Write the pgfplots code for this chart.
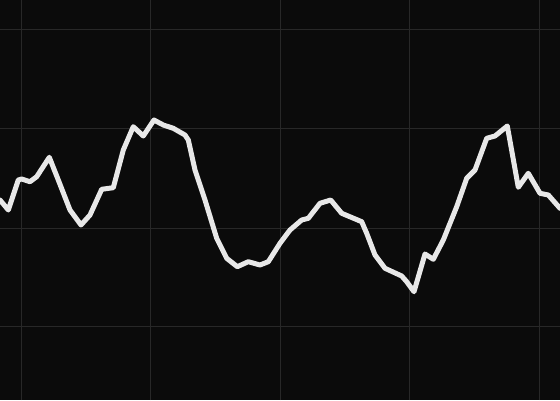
\documentclass[border=0pt]{standalone}
\usepackage{pgfplots}
\pgfplotsset{compat=1.18}
\definecolor{bg}{HTML}{0B0B0B}
\definecolor{gridc}{HTML}{282828}
\definecolor{linec}{HTML}{E8E8E8}
\begin{document}
\begin{tikzpicture}
\begin{axis}[
  width=560pt, height=400pt, scale only axis,
  xmin=0, xmax=560, ymin=-400, ymax=0,
  axis line style={draw=none},
  axis background/.style={fill=bg},
  xtick={21,150.5,280,409.5,539},
  ytick={-326,-228,-129,-30},
  xticklabels={}, yticklabels={},
  major tick length=0pt,
  grid=major,
  major grid style={gridc, line width=1pt},
]
\addplot[linec, line width=5pt, line join=round, line cap=round] coordinates {
(0,-200) (8.3,-210) (18.3,-180) (21.7,-179) (30,-181.7) (36.7,-176.7) (49.3,-157.3)
(58.3,-180) (70,-210) (81,-225) (90,-215) (101.7,-189.3) (113.3,-187.7) (123.3,-150)
(133.3,-126.7) (143.3,-136) (154,-120) (163.3,-125) (173.3,-128.3) (185,-135)
(188.3,-140) (195,-170) (205,-200) (216.7,-238.3) (226.7,-258.3) (237.3,-266.7)
(248.3,-261.7) (260,-265) (268.3,-261.7) (280,-243.3) (290,-230) (301.7,-220)
(308.3,-218.3) (320,-203.3) (330.7,-200) (341.7,-213.3) (361.7,-221.7)
(366.7,-233.3) (375,-255) (385,-268.3) (401.7,-276) (406.7,-281.7) (414,-291.7)
(425,-254) (433.3,-259.3) (443.3,-240) (456.7,-206.7) (466.7,-178.3) (475,-170)
(486.7,-138.3) (495,-136) (507.3,-126) (518.3,-187.3) (528.3,-173.3) (540,-193.3)
(548.3,-195) (560,-208.3)
};
\end{axis}
\pgfresetboundingbox
\path (current axis.south west) rectangle (current axis.north east);
\end{tikzpicture}
\end{document}
